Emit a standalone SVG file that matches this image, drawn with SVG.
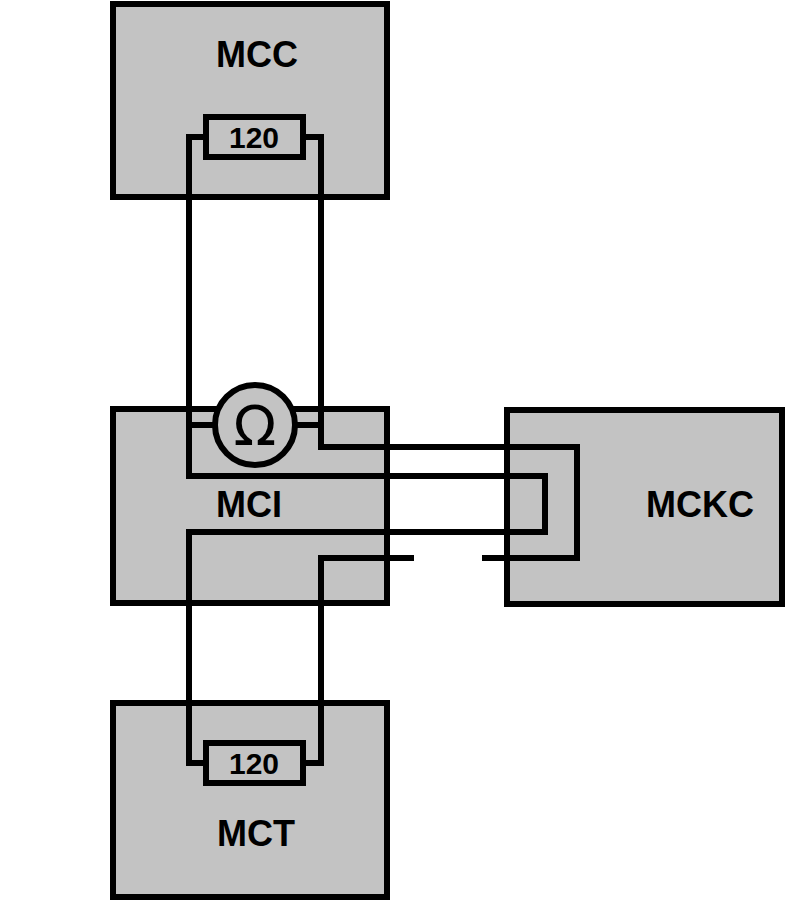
<svg xmlns="http://www.w3.org/2000/svg" width="787" height="902" viewBox="0 0 787 902">
<style>
.box{fill:#c3c3c3;stroke:#000;stroke-width:6}
.w{fill:none;stroke:#000;stroke-width:6}
.t{font-family:"Liberation Sans",Arial,sans-serif;font-weight:bold;fill:#000}
</style>
<rect width="787" height="902" fill="#fff"/>
<g id="MCC"><rect class="box" x="113" y="4" width="274" height="193"/><text class="t" x="257" y="67" font-size="36" text-anchor="middle">MCC</text></g>
<g id="MCI"><rect class="box" x="113" y="409" width="274" height="194"/><text class="t" x="249" y="517" font-size="36" text-anchor="middle">MCI</text></g>
<g id="MCKC"><rect class="box" x="507" y="410" width="275" height="194"/><text class="t" x="700" y="517" font-size="36" text-anchor="middle">MCKC</text></g>
<g id="MCT"><rect class="box" x="113" y="703" width="274" height="194"/><text class="t" x="256" y="846" font-size="36" text-anchor="middle">MCT</text></g>
<g id="connectors">
<path class="w" d="M206,137 H189 V476 H545 V532 H189 V763 H206"/>
<path class="w" d="M303,137 H321 V447 H577 V558 H482"/>
<path class="w" d="M303,763 H321 V558 H414"/>
<path class="w" d="M189,425 H215 M295,425 H321"/>
</g>
<g id="R1"><rect class="box" x="206" y="117" width="97" height="40"/><text class="t" x="254" y="148" font-size="30" text-anchor="middle">120</text></g>
<g id="R2"><rect class="box" x="206" y="743" width="97" height="40"/><text class="t" x="254" y="774" font-size="30" text-anchor="middle">120</text></g>
<g id="ohm"><circle class="box" cx="255" cy="425" r="40"/><text x="255" y="445" font-size="56" font-family="DejaVu Sans" text-anchor="middle">Ω</text></g>
</svg>
